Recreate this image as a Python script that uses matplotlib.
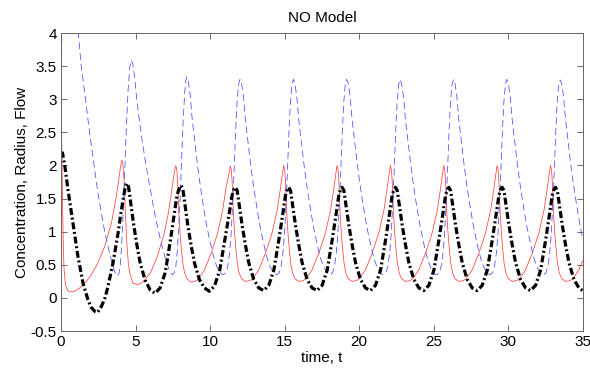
import matplotlib
matplotlib.use("Agg")
import matplotlib.pyplot as plt

plt.rcParams['font.family'] = ['Liberation Sans', 'DejaVu Sans']
plt.rcParams['lines.scale_dashes'] = False

title = "NO Model"
xlabel = "time, t"
ylabel = "Concentration, Radius, Flow"
xticks = [0, 5, 10, 15, 20, 25, 30, 35]
yticks = [-0.5, 0, 0.5, 1, 1.5, 2, 2.5, 3, 3.5, 4]

# red solid curve (time, value)
t_red = [0, 0.05, 0.1, 0.15, 0.2, 0.3, 0.45, 0.6, 0.9, 1.14, 1.36, 1.7, 2.04, 2.48, 2.93, 3.38, 3.71, 3.94, 4.02, 4.09,
         4.16, 4.23, 4.32, 4.43, 4.52, 4.61, 4.83, 5.17, 5.5, 6.0, 6.45, 6.9, 7.2, 7.45, 7.6, 7.7,
         7.77, 7.83, 7.9, 7.98, 8.05, 8.17, 8.3, 8.45, 8.7, 9.0, 9.2, 9.6, 10.05, 10.5, 10.85, 11.08, 11.2, 11.36,
         11.43, 11.49, 11.56, 11.64, 11.71, 11.83, 11.96, 12.11, 12.36, 12.66, 12.86, 13.26, 13.71, 14.16, 14.51, 14.74, 14.84, 14.94,
         15.01, 15.07, 15.14, 15.22, 15.29, 15.41, 15.54, 15.69, 15.94, 16.24, 16.44, 16.84, 17.29, 17.74, 18.09, 18.32, 18.42, 18.52,
         18.59, 18.65, 18.72, 18.8, 18.87, 18.99, 19.12, 19.27, 19.52, 19.82, 20.02, 20.42, 20.87, 21.32, 21.67, 21.9, 22.0, 22.1,
         22.17, 22.23, 22.3, 22.38, 22.45, 22.57, 22.7, 22.85, 23.1, 23.4, 23.6, 24.0, 24.45, 24.9, 25.25, 25.48, 25.58, 25.68,
         25.75, 25.81, 25.88, 25.96, 26.03, 26.15, 26.28, 26.43, 26.68, 26.98, 27.18, 27.58, 28.03, 28.48, 28.83, 29.06, 29.16, 29.26,
         29.33, 29.39, 29.46, 29.54, 29.61, 29.73, 29.86, 30.01, 30.26, 30.56, 30.76, 31.16, 31.61, 32.06, 32.41, 32.64, 32.74, 32.84,
         32.91, 32.97, 33.04, 33.12, 33.19, 33.31, 33.44, 33.59, 33.84, 34.14, 34.34, 34.74, 35.0]
v_red = [2.95, 2.3, 1.5, 0.85, 0.45, 0.2, 0.11, 0.09, 0.1, 0.13, 0.17, 0.25, 0.35, 0.53, 0.78, 1.13, 1.53, 1.89, 2.02, 2.08,
         2.0, 1.78, 1.28, 0.78, 0.52, 0.38, 0.22, 0.2, 0.24, 0.38, 0.62, 0.95, 1.28, 1.65, 1.9, 2.0,
         1.93, 1.72, 1.3, 1.0, 0.8, 0.52, 0.37, 0.29, 0.24, 0.25, 0.28, 0.41, 0.66, 0.97, 1.33, 1.68, 1.8, 1.99,
         1.93, 1.72, 1.3, 1.0, 0.8, 0.52, 0.37, 0.29, 0.25, 0.26, 0.29, 0.42, 0.67, 0.98, 1.33, 1.68, 1.85, 2.0,
         1.93, 1.72, 1.3, 1.0, 0.8, 0.52, 0.37, 0.29, 0.25, 0.26, 0.29, 0.42, 0.67, 0.98, 1.33, 1.68, 1.85, 2.0,
         1.93, 1.72, 1.3, 1.0, 0.8, 0.52, 0.37, 0.29, 0.25, 0.26, 0.29, 0.42, 0.67, 0.98, 1.33, 1.68, 1.85, 2.0,
         1.93, 1.72, 1.3, 1.0, 0.8, 0.52, 0.37, 0.29, 0.25, 0.26, 0.29, 0.42, 0.67, 0.98, 1.33, 1.68, 1.85, 2.0,
         1.93, 1.72, 1.3, 1.0, 0.8, 0.52, 0.37, 0.29, 0.25, 0.26, 0.29, 0.42, 0.67, 0.98, 1.33, 1.68, 1.85, 2.0,
         1.93, 1.72, 1.3, 1.0, 0.8, 0.52, 0.37, 0.29, 0.25, 0.26, 0.29, 0.42, 0.67, 0.98, 1.33, 1.68, 1.85, 2.0,
         1.93, 1.72, 1.3, 1.0, 0.8, 0.52, 0.37, 0.29, 0.25, 0.26, 0.29, 0.42, 0.56]

# blue dashed curve
t_blu = [0, 0.03, 0.06, 0.15, 0.4, 0.8, 1.0, 1.16, 1.36, 1.59, 1.81, 2.04, 2.26, 2.48, 2.71, 2.93, 3.15, 3.38, 3.6, 3.76,
         3.88, 3.98, 4.08, 4.18, 4.28, 4.38, 4.5, 4.62, 4.72,
         4.82, 4.95, 5.08, 5.26, 5.44, 5.6, 5.8, 6.0, 6.2, 6.4, 6.6, 6.8, 7.0, 7.2, 7.35, 7.47, 7.6, 7.7, 7.8, 7.9, 8.0, 8.1, 8.2, 8.3, 8.37, 8.43,
         8.53, 8.66, 8.79, 8.97, 9.15, 9.29, 9.43, 9.62, 9.79, 9.96, 10.13, 10.29, 10.46, 10.63, 10.78, 10.89, 11.06, 11.18, 11.31, 11.41, 11.51, 11.61, 11.71, 11.81, 11.91, 12.01,
         12.11, 12.24, 12.37, 12.55, 12.73, 12.87, 13.01, 13.2, 13.37, 13.54, 13.71, 13.87, 14.04, 14.21, 14.36, 14.47, 14.64, 14.76, 14.89, 14.99, 15.09, 15.19, 15.29, 15.39, 15.49, 15.59,
         15.69, 15.82, 15.95, 16.13, 16.31, 16.45, 16.59, 16.78, 16.95, 17.12, 17.29, 17.45, 17.62, 17.79, 17.94, 18.05, 18.22, 18.34, 18.47, 18.57, 18.67, 18.77, 18.87, 18.97, 19.07, 19.17,
         19.27, 19.4, 19.53, 19.71, 19.89, 20.03, 20.17, 20.36, 20.53, 20.7, 20.87, 21.03, 21.2, 21.37, 21.52, 21.63, 21.8, 21.92, 22.05, 22.15, 22.25, 22.35, 22.45, 22.55, 22.65, 22.75,
         22.85, 22.98, 23.11, 23.29, 23.47, 23.61, 23.75, 23.94, 24.11, 24.28, 24.45, 24.61, 24.78, 24.95, 25.1, 25.21, 25.38, 25.5, 25.63, 25.73, 25.83, 25.93, 26.03, 26.13, 26.23, 26.33,
         26.43, 26.56, 26.69, 26.87, 27.05, 27.19, 27.33, 27.52, 27.69, 27.86, 28.03, 28.19, 28.36, 28.53, 28.68, 28.79, 28.96, 29.08, 29.21, 29.31, 29.41, 29.51, 29.61, 29.71, 29.81, 29.91,
         30.01, 30.14, 30.27, 30.45, 30.63, 30.77, 30.91, 31.1, 31.27, 31.44, 31.61, 31.77, 31.94, 32.11, 32.26, 32.37, 32.54, 32.66, 32.79, 32.89, 32.99, 33.09, 33.19, 33.29, 33.39, 33.49,
         33.59, 33.72, 33.85, 34.03, 34.21, 34.35, 34.49, 34.68, 34.85, 35.0]
v_blu = [2.2, 3.2, 4.2, 5.5, 6.0, 5.2, 4.6, 4.0, 3.49, 3.1, 2.69, 2.29, 1.93, 1.58, 1.28, 1.0, 0.78, 0.57, 0.4, 0.33,
         0.36, 0.5, 0.85, 1.35, 1.95, 2.54, 3.14, 3.5, 3.59,
         3.53, 3.32, 3.0, 2.68, 2.38, 2.15, 1.88, 1.63, 1.38, 1.15, 0.95, 0.76, 0.6, 0.46, 0.38, 0.35, 0.38, 0.47, 0.7, 1.05, 1.55, 2.15, 2.7, 3.1, 3.28, 3.34,
         3.28, 3.08, 2.73, 2.37, 2.02, 1.78, 1.57, 1.29, 1.07, 0.89, 0.72, 0.58, 0.47, 0.4, 0.36, 0.35, 0.38, 0.47, 0.68, 0.95, 1.4, 1.9, 2.5, 2.95, 3.22, 3.3,
         3.24, 3.04, 2.69, 2.34, 2.0, 1.76, 1.55, 1.28, 1.06, 0.88, 0.71, 0.57, 0.47, 0.4, 0.36, 0.35, 0.38, 0.47, 0.68, 0.95, 1.4, 1.9, 2.5, 2.95, 3.22, 3.3,
         3.24, 3.04, 2.69, 2.34, 2.0, 1.76, 1.55, 1.28, 1.06, 0.88, 0.71, 0.57, 0.47, 0.4, 0.36, 0.35, 0.38, 0.47, 0.68, 0.95, 1.4, 1.9, 2.5, 2.95, 3.22, 3.3,
         3.24, 3.04, 2.69, 2.34, 2.0, 1.76, 1.55, 1.28, 1.06, 0.88, 0.71, 0.57, 0.47, 0.4, 0.36, 0.35, 0.38, 0.47, 0.68, 0.95, 1.4, 1.9, 2.5, 2.95, 3.22, 3.3,
         3.24, 3.04, 2.69, 2.34, 2.0, 1.76, 1.55, 1.28, 1.06, 0.88, 0.71, 0.57, 0.47, 0.4, 0.36, 0.35, 0.38, 0.47, 0.68, 0.95, 1.4, 1.9, 2.5, 2.95, 3.22, 3.3,
         3.24, 3.04, 2.69, 2.34, 2.0, 1.76, 1.55, 1.28, 1.06, 0.88, 0.71, 0.57, 0.47, 0.4, 0.36, 0.35, 0.38, 0.47, 0.68, 0.95, 1.4, 1.9, 2.5, 2.95, 3.22, 3.3,
         3.24, 3.04, 2.69, 2.34, 2.0, 1.76, 1.55, 1.28, 1.06, 0.88, 0.71, 0.57, 0.47, 0.4, 0.36, 0.35, 0.38, 0.47, 0.68, 0.95, 1.4, 1.9, 2.5, 2.95, 3.22, 3.29,
         3.24, 3.04, 2.69, 2.34, 2.0, 1.76, 1.55, 1.28, 1.06, 0.9]

# black dash-dot curve
t_blk = [0, 0.1, 0.25, 0.47, 0.8, 1.14, 1.48, 1.81, 2.05, 2.3, 2.45, 2.71, 2.95, 3.15, 3.49, 3.83, 4.0, 4.16, 4.3, 4.41,
         4.53, 4.64, 4.86, 5.09, 5.31, 5.64, 5.98, 6.31, 6.65, 6.99, 7.32, 7.59, 7.77, 7.89, 8.05,
         8.17, 8.28, 8.5, 8.73, 8.95, 9.28, 9.62, 9.95, 10.3, 10.65, 10.99, 11.27, 11.46, 11.58, 11.7,
         11.82, 11.93, 12.15, 12.38, 12.6, 12.93, 13.27, 13.6, 13.94, 14.28, 14.61, 14.88, 15.06, 15.18, 15.28,
         15.4, 15.51, 15.73, 15.96, 16.18, 16.51, 16.85, 17.18, 17.52, 17.86, 18.19, 18.46, 18.64, 18.76, 18.86,
         18.98, 19.09, 19.31, 19.54, 19.76, 20.09, 20.43, 20.76, 21.1, 21.44, 21.77, 22.04, 22.22, 22.34, 22.44,
         22.56, 22.67, 22.89, 23.12, 23.34, 23.67, 24.01, 24.34, 24.68, 25.02, 25.35, 25.62, 25.8, 25.92, 26.02,
         26.14, 26.25, 26.47, 26.7, 26.92, 27.25, 27.59, 27.92, 28.26, 28.6, 28.93, 29.2, 29.38, 29.5, 29.6,
         29.72, 29.83, 30.05, 30.28, 30.5, 30.83, 31.17, 31.5, 31.84, 32.18, 32.51, 32.78, 32.96, 33.08, 33.18,
         33.3, 33.41, 33.63, 33.86, 34.08, 34.41, 34.75, 35.0]
v_blk = [2.17, 2.19, 2.0, 1.63, 1.13, 0.62, 0.22, -0.03, -0.15, -0.21, -0.22, -0.13, 0.0, 0.17, 0.53, 0.98, 1.25, 1.48, 1.66, 1.73,
         1.68, 1.5, 1.13, 0.8, 0.53, 0.27, 0.12, 0.07, 0.15, 0.38, 0.84, 1.25, 1.53, 1.63, 1.7,
         1.65, 1.47, 1.11, 0.79, 0.53, 0.28, 0.15, 0.1, 0.18, 0.42, 0.87, 1.25, 1.53, 1.63, 1.67,
         1.62, 1.45, 1.1, 0.79, 0.53, 0.28, 0.15, 0.11, 0.19, 0.42, 0.87, 1.27, 1.55, 1.64, 1.67,
         1.62, 1.45, 1.1, 0.79, 0.53, 0.28, 0.15, 0.11, 0.19, 0.42, 0.87, 1.27, 1.55, 1.64, 1.67,
         1.62, 1.45, 1.1, 0.79, 0.53, 0.28, 0.15, 0.11, 0.19, 0.42, 0.87, 1.27, 1.55, 1.64, 1.67,
         1.62, 1.45, 1.1, 0.79, 0.53, 0.28, 0.15, 0.11, 0.19, 0.42, 0.87, 1.27, 1.55, 1.64, 1.67,
         1.62, 1.45, 1.1, 0.79, 0.53, 0.28, 0.15, 0.11, 0.19, 0.42, 0.87, 1.27, 1.55, 1.64, 1.67,
         1.62, 1.45, 1.1, 0.79, 0.53, 0.28, 0.15, 0.11, 0.19, 0.42, 0.87, 1.27, 1.55, 1.64, 1.67,
         1.62, 1.45, 1.1, 0.79, 0.53, 0.28, 0.15, 0.11]

fig = plt.figure(figsize=(5.9, 3.68), dpi=100)
ax = fig.add_axes([0.1034, 0.1005, 0.8842, 0.8098])

ax.plot(t_red, v_red, color='#ff4040', lw=0.55)
ax.plot(t_blu, v_blu, color='#4848ff', lw=0.55, dashes=(5, 2.8))
ax.plot(t_blk, v_blk, color='black', lw=2.3, dashes=(5, 2, 1.4, 2))

ax.set_xlim(0, 35)
ax.set_ylim(-0.5, 4)
ax.set_xticks(xticks)
ax.set_yticks(yticks)
ax.set_yticklabels([('%g' % v) for v in yticks])
ax.tick_params(direction='in', length=4, width=0.6, color='#555555',
               top=True, right=True, labelsize=11, pad=3)
for s in ax.spines.values():
    s.set_color('#666666')
    s.set_linewidth(0.7)

ax.set_title(title, fontsize=11, pad=8)
ax.set_xlabel(xlabel, fontsize=11, labelpad=1)
ax.set_ylabel(ylabel, fontsize=11, labelpad=1)

fig.savefig('out.png', dpi=100)
